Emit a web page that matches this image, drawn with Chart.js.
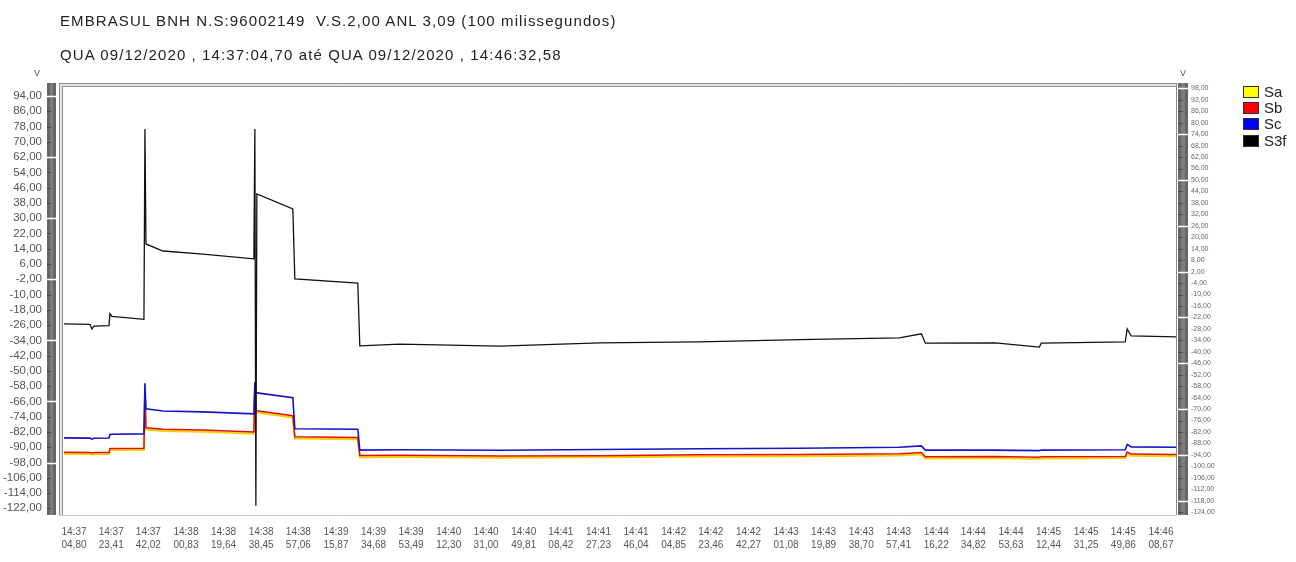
<!DOCTYPE html>
<html><head><meta charset="utf-8">
<script src="https://cdn.jsdelivr.net/npm/chart.js@4.4.0/dist/chart.umd.min.js"></script>
<style>
html,body{margin:0;padding:0;background:#fff;width:1296px;height:562px;overflow:hidden;font-family:Arial,"Liberation Sans",sans-serif;}
#wrap{position:relative;width:1296px;height:562px;}
#c{position:absolute;left:0;top:0;}
.title{position:absolute;left:60px;font-size:15px;letter-spacing:1.1px;color:#222;white-space:pre;line-height:17px;}
.unit{position:absolute;font-size:9px;color:#555;}
.leg{position:absolute;left:1243px;width:16px;height:12px;border:1px solid #333;box-sizing:border-box;}
.legt{position:absolute;left:1264px;font-size:15px;line-height:15px;color:#222;}
</style></head>
<body><div id="wrap">
<canvas id="c" width="1296" height="562"></canvas>
<div class="title" style="top:12px">EMBRASUL BNH N.S:96002149  V.S.2,00 ANL 3,09 (100 milissegundos)</div>
<div class="title" style="top:46px">QUA 09/12/2020 , 14:37:04,70 até QUA 09/12/2020 , 14:46:32,58</div>
<div class="unit" style="left:34px;top:68px">V</div>
<div class="unit" style="left:1180px;top:68px">V</div>
<div id="legend"></div>
</div>
<script>
// ---- data ----
const seriesNames = ["Sa", "Sb", "Sc", "S3f"];
const seriesColors = ["#ffff00", "#ff0000", "#0000ff", "#000000"];
// seconds after 14:37:00,80
const timeSec = [-1, 12, 13, 14, 21.5, 22, 23, 39, 39.5, 40, 48.5, 68.5, 94, 94.5, 95, 95.5, 113.5, 114.5, 146, 147,
  167, 217, 267, 317, 367, 417, 428, 430, 465, 487, 488, 530, 531, 533, 555.4];
const s3f = [-25.4, -25.6, -28.0, -26.5, -26.3, -20.0, -21.5, -23.0, 76.7, 16.5, 12.8, 11.2, 8.7, 76.7, -120.7, 42.7, 34.8, -1.8, -4.0, -36.9,
  -36.0, -37.0, -35.3, -34.8, -33.6, -32.7, -30.6, -35.5, -35.3, -37.5, -35.5, -34.8, -28.0, -31.7, -32.2];
const sc = [-85.1, -85.2, -85.8, -85.3, -85.2, -83.3, -83.2, -83.0, -56.5, -69.9, -71.0, -71.5, -72.5, -56.0, -61.5, -61.5, -64.1, -80.3, -80.6, -91.5,
  -91.3, -91.6, -91.2, -90.8, -90.5, -90.0, -89.3, -91.5, -91.5, -91.8, -91.5, -91.3, -88.5, -89.8, -90.0];
const sb = [-92.6, -92.7, -93.0, -92.8, -92.7, -90.7, -90.6, -90.5, -60.0, -79.8, -80.6, -81.0, -82.0, -60.0, -70.9, -70.9, -73.5, -84.5, -84.9, -94.3,
  -94.2, -94.6, -94.4, -94.0, -93.8, -93.4, -92.8, -95.0, -94.8, -95.2, -95.0, -94.8, -92.5, -93.6, -93.8];
const sa = [-93.5, -93.6, -93.9, -93.7, -93.6, -91.6, -91.5, -91.4, -62.0, -80.7, -81.5, -81.9, -82.9, -62.0, -71.8, -71.8, -74.4, -85.4, -85.8, -95.2,
  -95.1, -95.5, -95.3, -94.9, -94.7, -94.3, -93.7, -95.9, -95.7, -96.1, -95.9, -95.7, -93.4, -94.5, -94.7];
const xTickClock = ["14:37","14:37","14:37","14:38","14:38","14:38","14:38","14:39","14:39","14:39","14:40","14:40","14:40","14:41","14:41",
  "14:41","14:42","14:42","14:42","14:43","14:43","14:43","14:43","14:44","14:44","14:44","14:45","14:45","14:45","14:46"];
const xTickSec = ["04,80","23,41","42,02","00,83","19,64","38,45","57,06","15,87","34,68","53,49","12,30","31,00","49,81","08,42","27,23",
  "46,04","04,85","23,46","42,27","01,08","19,89","38,70","57,41","16,22","34,82","53,63","12,44","31,25","49,86","08,67"];
const leftTicks = [94,86,78,70,62,54,46,38,30,22,14,6,-2,-10,-18,-26,-34,-42,-50,-58,-66,-74,-82,-90,-98,-106,-114,-122];
const rightTicks = [98,92,86,80,74,68,62,56,50,44,38,32,26,20,14,8,2,-4,-10,-16,-22,-28,-34,-40,-46,-52,-58,-64,-70,-76,-82,-88,-94,-100,-106,-112,-118,-124];

const originSec = 14*3600 + 37*60 + 0.80;
const xTickValues = xTickClock.map((c,i)=>{const [h,m]=c.split(':').map(Number);return h*3600+m*60+parseFloat(xTickSec[i].replace(',','.'))-originSec;});
const fmt = v => v.toFixed(2).replace('.', ',');

// legend (HTML)
const legTops=[86,102,118,135];
const lg=document.getElementById('legend');
seriesNames.forEach((n,i)=>{
  const b=document.createElement('div');b.className='leg';b.style.top=legTops[i]+'px';b.style.background=seriesColors[i];lg.appendChild(b);
  const t=document.createElement('div');t.className='legt';t.style.top=(legTops[i]-2)+'px';t.textContent=n;lg.appendChild(t);
});

const values=[sa,sb,sc,s3f];
const lineColors=["#f5d000","#e01010","#1414c8","#111111"];
const widths=[2,1.5,1.6,1.3];
const datasets=seriesNames.map((n,i)=>({
  label:n, data:timeSec.map((t,j)=>({x:t,y:values[i][j]})),
  borderColor:lineColors[i], borderWidth:widths[i], pointRadius:0, tension:0, fill:false, order:3-i
}));

const FONT='Arial, "Liberation Sans", sans-serif';
const deco={id:'deco',
  beforeDatasetsDraw(chart){
    const ctx=chart.ctx, a=chart.chartArea;
    ctx.save();
    ctx.fillStyle='#e4e4e4';
    ctx.fillRect(59,83,4,a.bottom-83);
    ctx.fillRect(59,83,a.right-59,4);
    ctx.strokeStyle='#8c8c8c';ctx.lineWidth=1;
    ctx.beginPath();
    ctx.moveTo(59.5,83);ctx.lineTo(59.5,a.bottom);
    ctx.moveTo(62.5,86);ctx.lineTo(62.5,a.bottom);
    ctx.moveTo(59,83.5);ctx.lineTo(a.right+1,83.5);
    ctx.moveTo(62,86.5);ctx.lineTo(a.right+1,86.5);
    ctx.moveTo(a.right+0.5,83);ctx.lineTo(a.right+0.5,a.bottom);
    ctx.stroke();
    ctx.strokeStyle='#c8c8c8';
    ctx.beginPath();ctx.moveTo(59,a.bottom+0.5);ctx.lineTo(a.right,a.bottom+0.5);ctx.stroke();
    const ys=chart.scales.y, y2=chart.scales.y2;
    const ruler=(x,w,ticks,scale)=>{
      ctx.fillStyle='#666666';ctx.fillRect(x,83,w,a.bottom-83);
      ctx.fillStyle='#7e7e7e';ctx.fillRect(x+3,83,w-6,a.bottom-83);
      ticks.forEach((v,i)=>{
        const py=Math.round(scale.getPixelForValue(v))+0.5;
        ctx.strokeStyle=(i%4===0)?'#ffffff':'#4a4a4a';
        ctx.lineWidth=(i%4===0)?1.5:1;
        ctx.beginPath();ctx.moveTo(x,py);ctx.lineTo(x+((i%4===0)?w:w/2),py);ctx.stroke();
      });
    };
    ruler(47,9,leftTicks,ys);
    ruler(1178,10,rightTicks,y2);
    ctx.restore();
  }
};

new Chart(document.getElementById('c'),{
  type:'line',
  data:{datasets},
  options:{
    responsive:false, animation:false,
    layout:{padding:{top:88,left:0,right:0,bottom:0}},
    plugins:{legend:{display:false},title:{display:false},tooltip:{enabled:false}},
    scales:{
      x:{type:'linear',min:-1,max:555.4,
        afterBuildTicks:s=>{s.ticks=xTickValues.map(v=>({value:v}));},
        afterFit:s=>{s.height=47;},
        grid:{display:false,drawTicks:false},border:{display:false},
        ticks:{autoSkip:false,maxRotation:0,minRotation:0,padding:11,color:'#555',
          font:{size:10,family:FONT,lineHeight:1.3},
          callback:(v,i)=>[xTickClock[i],xTickSec[i]]}},
      y:{position:'left',min:-125.5,max:98.2,
        afterBuildTicks:s=>{s.ticks=leftTicks.map(v=>({value:v}));},
        afterFit:s=>{s.width=64;},
        grid:{display:false,drawTicks:false},border:{display:false},
        ticks:{autoSkip:false,padding:22,color:'#555',font:{size:11.5,family:FONT},callback:v=>fmt(v)}},
      y2:{position:'right',min:-125.5,max:98.2,
        afterBuildTicks:s=>{s.ticks=rightTicks.map(v=>({value:v}));},
        afterFit:s=>{s.width=120;},
        grid:{display:false,drawTicks:false},border:{display:false},
        ticks:{autoSkip:false,padding:15,color:'#666',font:{size:7,family:FONT},callback:v=>fmt(v)}}
    }
  },
  plugins:[deco]
});
</script>
</body></html>
